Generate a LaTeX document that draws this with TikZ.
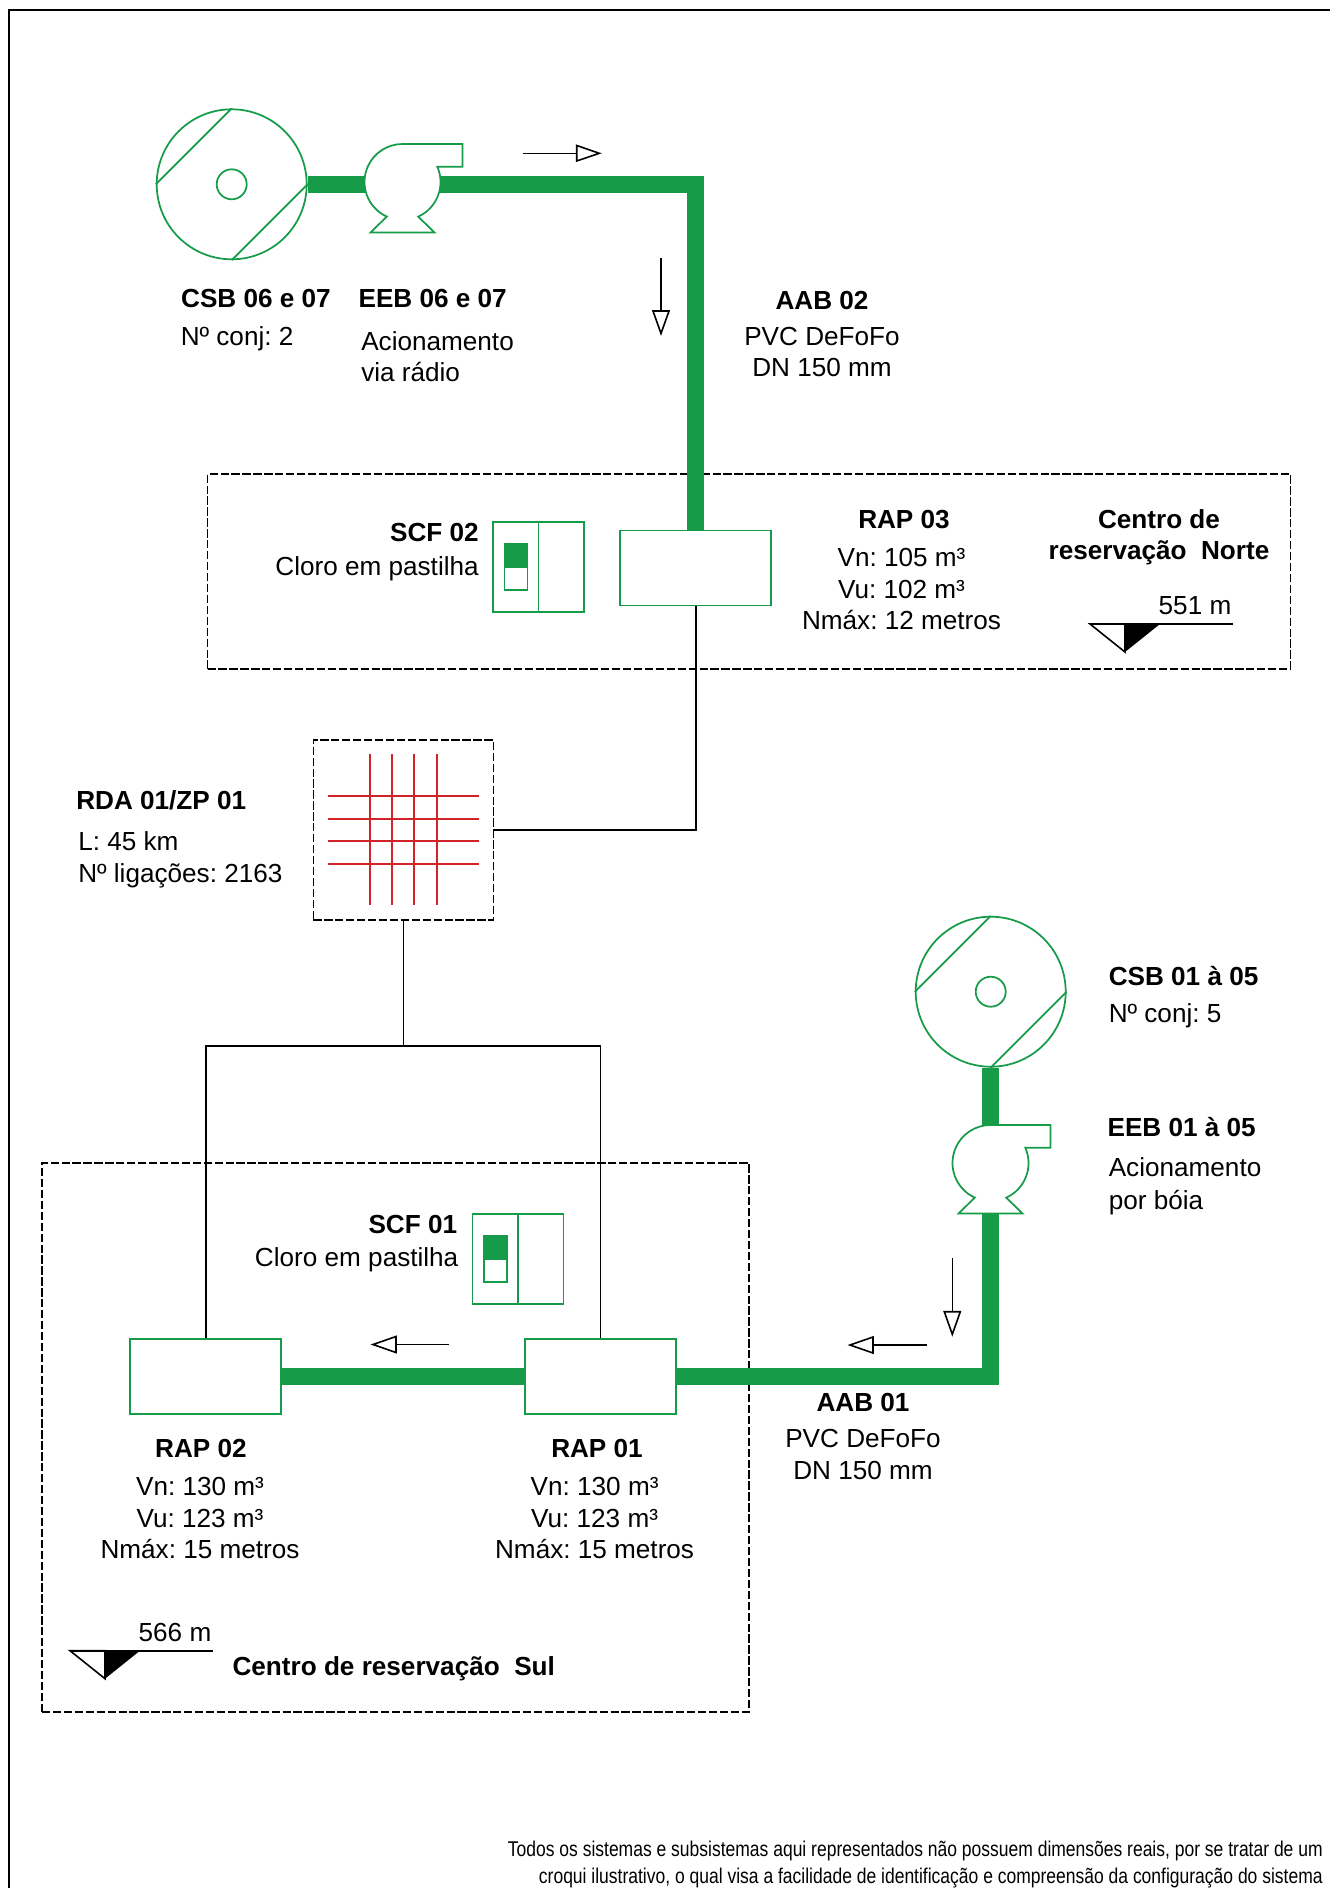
\documentclass[tikz,border=0pt]{standalone}
\usepackage{fontspec}
\setmainfont{Liberation Sans}
\newfontfamily\narrowfont[FakeStretch=0.82]{Liberation Sans}
\frenchspacing
\definecolor{pipegreen}{HTML}{169B48}
\definecolor{gridred}{HTML}{D2232A}
\tikzset{
  x=0.75pt,y=-0.75pt,
  thin green/.style={draw=pipegreen,line width=1.3pt},
  pipe/.style={draw=pipegreen,line width=12.6pt,miter limit=10},
  wire/.style={draw=black,line width=1.2pt},
  zone/.style={draw=black,line width=1pt,dash pattern=on 6.2pt off 2pt,fill=none,inner sep=0pt},
  tankbox/.style={thin green,fill=white,minimum width=113.25pt,minimum height=56.25pt,inner sep=0pt},
  wellring/.style={thin green,fill=white,circle,minimum size=112.5pt,inner sep=0pt},
  wellcore/.style={thin green,circle,minimum size=22.5pt,inner sep=0pt},
  txt/.style={font=\fontsize{19.6pt}{19.6pt}\selectfont,inner sep=0pt,text height=0.72em,text depth=0pt,yshift=-3.5pt},
  btxt/.style={txt,font=\fontsize{19.6pt}{19.6pt}\selectfont\bfseries},
  note/.style={font=\narrowfont\fontsize{16pt}{16pt}\selectfont,inner sep=0pt,anchor=east,text height=0.72em,text depth=0pt,yshift=-2.4pt},
  flowtip/.style={draw=black,line width=1.2pt,fill=white,line join=miter},
  pumpbody/.pic={
    \draw[thin green,fill=white,x=0.75pt,y=0.75pt]
      (-15.7,-34.6) arc[start angle=245.6,end angle=90,radius=28.5pt]
      -- (60,38) -- (60,15.3) -- (34.8,15.3)
      arc[start angle=23.8,end angle=-65.6,radius=28.5pt]
      -- (32,-50.5) -- (-32,-50.5) -- cycle;
  },
  chlorine/.pic={
    \draw[thin green,fill=white,x=0.75pt,y=-0.75pt] (-45.5,-45) rectangle (45.5,45);
    \draw[thin green,x=0.75pt,y=-0.75pt] (0,-45) -- (0,45);
    \draw[thin green,x=0.75pt,y=-0.75pt] (-34,-23) rectangle (-11,23);
    \fill[pipegreen,x=0.75pt,y=-0.75pt] (-34.5,-23.5) rectangle (-10.5,1);
  },
  levelmark/.pic={
    \draw[draw=black,line width=1.2pt,fill=white,x=0.75pt,y=-0.75pt] (0,0) -- (35,28) -- (35,0) -- cycle;
    \fill[black,x=0.75pt,y=-0.75pt] (35,0) -- (70,0) -- (35,28) -- cycle;
    \draw[line width=1.2pt,x=0.75pt,y=-0.75pt] (0,0) -- (143,0);
  },
}
\begin{document}
\begin{tikzpicture}
\useasboundingbox (0,0) rectangle (1330,1888);
\fill[white] (0,0) rectangle (1330,1888);
% outer frame
\draw[line width=1.2pt] (1330,10) -- (9,10) -- (9,1888);
% zones
\node[zone,minimum width=812.25pt,minimum height=146.25pt] (norte) at (749,571.5) {};
\node[zone,minimum width=530.25pt,minimum height=411.75pt] (sul) at (395.5,1437.5) {};
% coordinates for pumps
\coordinate (pumpA) at (402.5,182);
\coordinate (pumpB) at (990.5,1163);
% main nodes
\node[wellring] (csbA) at (231.7,184.3) {};
\node[wellcore] (csbAc) at (231.7,184.3) {};
\node[wellring] (csbB) at (990.7,991.7) {};
\node[wellcore] (csbBc) at (990.7,991.7) {};
\node[tankbox] (rap3) at (695.7,568) {};
\node[tankbox] (rap2) at (205.7,1376.5) {};
\node[tankbox] (rap1) at (600.6,1376.5) {};
\node[draw=black,line width=1.2pt,dash pattern=on 6.2pt off 2pt,minimum size=135pt,inner sep=0pt] (rda) at (403.3,830) {};
\coordinate (elbowN) at (695.7,184.3);
\coordinate (elbowS) at (990.7,1376.5);
\coordinate (bus) at (403.3,1046);
% well chords
\draw[thin green] (csbA.north) -- (csbA.west) (csbA.east) -- (csbA.south);
\draw[thin green] (csbB.north) -- (csbB.west) (csbB.east) -- (csbB.south);
% pipes
\draw[pipe] (csbA.east) -- (elbowN) -- (rap3.north);
\draw[pipe] (csbB.south) -- (elbowS) -- (rap1.east);
\draw[pipe] (rap2.east) -- (rap1.west);
% pumps
\pic at (pumpA) {pumpbody};
\pic at (pumpB) {pumpbody};
% wires
\draw[wire] (rap3.south) |- (rda.east);
\draw[wire] (rda.south) -- (bus);
\draw[wire] (rap2.north) |- (bus);
\draw[wire] (rap1.north) |- (bus);
% grid
\foreach \gx in {369.7,392,414.3,437}
  \draw[gridred,line width=1.3pt] (\gx,754.3) -- (\gx,905);
\foreach \gy in {796,819,841.3,863.7}
  \draw[gridred,line width=1.3pt] (327.7,\gy) -- (479,\gy);
% chlorinators
\pic at (538.6,567) {chlorine};
\pic at (518,1259) {chlorine};
% level marks
\pic at (1090,624) {levelmark};
\pic at (70,1650.7) {levelmark};
% flow arrows
\coordinate (fa1) at (523.3,153.3); \coordinate (fa1b) at (576.7,153.3);
\draw[wire] (fa1) -- (fa1b);
\draw[flowtip] (576.7,145.5) -- (599.3,153.3) -- (576.7,161) -- cycle;
\coordinate (fa2) at (661,258); \coordinate (fa2b) at (661,311);
\draw[wire] (fa2) -- (fa2b);
\draw[flowtip] (653,311) -- (661,333.5) -- (669,311) -- cycle;
\coordinate (fa3) at (952.3,1258); \coordinate (fa3b) at (952.3,1311.7);
\draw[wire] (fa3) -- (fa3b);
\draw[flowtip] (944.3,1311.7) -- (952.3,1334.3) -- (960.3,1311.7) -- cycle;
\coordinate (fa4) at (926.7,1345); \coordinate (fa4b) at (873,1345);
\draw[wire] (fa4) -- (fa4b);
\draw[flowtip] (873,1337) -- (850,1345) -- (873,1353) -- cycle;
\coordinate (fa5) at (449,1344.5); \coordinate (fa5b) at (396,1344.5);
\draw[wire] (fa5) -- (fa5b);
\draw[flowtip] (396,1336.5) -- (373,1344.5) -- (396,1352.5) -- cycle;
% text
\node[btxt] (t1) at (256,298.5) {CSB 06 e 07};
\node[txt,anchor=west] (t2) at (180.5,336) {Nº conj: 2};
\node[btxt] (t3) at (432.7,298.5) {EEB 06 e 07};
\node[txt,anchor=west] (t4) at (361,340.6) {Acionamento};
\node[txt,anchor=west] (t5) at (361,372) {via rádio};
\node[btxt] (t6) at (822,299.7) {AAB 02};
\node[txt] (t7) at (822,335.8) {PVC DeFoFo};
\node[txt] (t8) at (822,367) {DN 150 mm};
\node[btxt,anchor=east] (t9) at (479,532) {SCF 02};
\node[txt,anchor=east] (t10) at (479,565.7) {Cloro em pastilha};
\node[btxt] (t11) at (904,519) {RAP 03};
\node[txt] (t12) at (901.5,557) {Vn: 105 m³};
\node[txt] (t13) at (901.5,588.6) {Vu: 102 m³};
\node[txt] (t14) at (901.5,620) {Nmáx: 12 metros};
\node[btxt] (t15) at (1159,519) {Centro de};
\node[btxt] (t16) at (1159,550) {reservação\ \ Norte};
\node[txt] (t17) at (1195,605) {551 m};
\node[btxt,anchor=west] (t18) at (76,800) {RDA 01/ZP 01};
\node[txt,anchor=west] (t19) at (78,841) {L: 45 km};
\node[txt,anchor=west] (t20) at (78,872.6) {Nº ligações: 2163};
\node[btxt,anchor=west] (t21) at (1108.5,976) {CSB 01 à 05};
\node[txt,anchor=west] (t22) at (1108.5,1013.5) {Nº conj: 5};
\node[btxt,anchor=west] (t23) at (1107.3,1126.6) {EEB 01 à 05};
\node[txt,anchor=west] (t24) at (1108.5,1167.5) {Acionamento};
\node[txt,anchor=west] (t25) at (1108.5,1200) {por bóia};
\node[btxt,anchor=east] (t26) at (457.4,1224) {SCF 01};
\node[txt,anchor=east] (t27) at (458.6,1256.6) {Cloro em pastilha};
\node[btxt] (t28) at (863,1402) {AAB 01};
\node[txt] (t29) at (863,1438) {PVC DeFoFo};
\node[txt] (t30) at (863,1469.6) {DN 150 mm};
\node[btxt] (t31) at (201,1448) {RAP 02};
\node[txt] (t32) at (200,1486.5) {Vn: 130 m³};
\node[txt] (t33) at (200,1517.7) {Vu: 123 m³};
\node[txt] (t34) at (200,1549) {Nmáx: 15 metros};
\node[btxt] (t35) at (597,1448) {RAP 01};
\node[txt] (t36) at (594.6,1486.5) {Vn: 130 m³};
\node[txt] (t37) at (594.6,1517.7) {Vu: 123 m³};
\node[txt] (t38) at (594.6,1549) {Nmáx: 15 metros};
\node[txt] (t39) at (175,1631.7) {566 m};
\node[btxt,anchor=west] (t40) at (232.3,1665.7) {Centro de reservação\ \ Sul};
\node[note] (t41) at (1323,1848.7) {Todos os sistemas e subsistemas aqui representados não possuem dimensões reais, por se tratar de um};
\node[note] (t42) at (1323,1875) {croqui ilustrativo, o qual visa a facilidade de identificação e compreensão da configuração do sistema};
\end{tikzpicture}
\end{document}
